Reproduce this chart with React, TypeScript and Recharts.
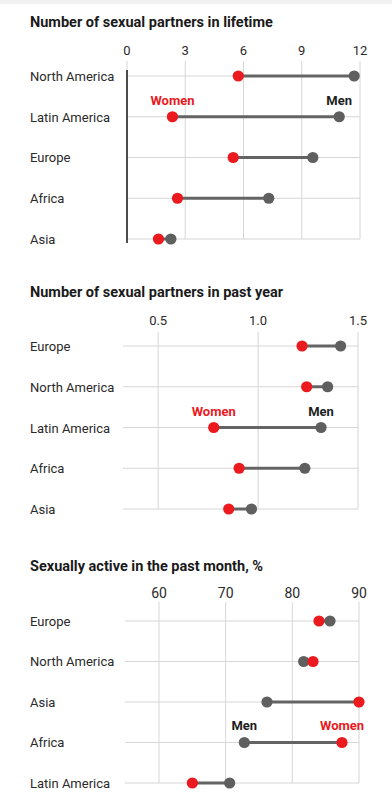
import { ScatterChart, Scatter, XAxis, YAxis, ReferenceLine } from "recharts";

const RED = "#ea1a1f";
const GREY = "#5f5f5f";
const LINK = "#646464";
const GRID = "#d6d6d6";
const INK = "#2a2a2a";
const FONT = "Roboto, 'Liberation Sans', Arial, sans-serif";

// Number of sexual partners in lifetime
const lifetimeRegions = ["North America", "Latin America", "Europe", "Africa", "Asia"];
const lifetimeWomen = [5.73, 2.34, 5.47, 2.6, 1.62];
const lifetimeMen = [11.7, 10.93, 9.57, 7.3, 2.26];
const lifetimeTicks = [0, 3, 6, 9, 12];

// Number of sexual partners in past year
const yearRegions = ["Europe", "North America", "Latin America", "Africa", "Asia"];
const yearWomen = [1.22, 1.243, 0.778, 0.905, 0.853];
const yearMen = [1.413, 1.348, 1.315, 1.234, 0.967];
const yearTicks = [0.5, 1.0, 1.5];

// Sexually active in the past month, %
const monthRegions = ["Europe", "North America", "Asia", "Africa", "Latin America"];
const monthWomen = [84.0, 83.1, 90, 87.45, 65.0];
const monthMen = [85.65, 81.7, 76.2, 72.8, 70.6];
const monthTicks = [60, 70, 80, 90];

const rowTicks = [0, 1, 2, 3, 4];

function dotShape(color: string, label: string, labelRow: number, labelColor: string) {
  return (p: any) => (
    <g>
      <circle cx={p.cx} cy={p.cy} r={5.6} fill={color} />
      {p.payload && p.payload.y === labelRow && (
        <text
          x={p.cx}
          y={p.cy - 12}
          textAnchor="middle"
          fill={labelColor}
          fontSize={13}
          fontWeight={700}
          fontFamily={FONT}
        >
          {label}
        </text>
      )}
    </g>
  );
}

function Panel(props: any) {
  const {
    top, title, titleTop, regions, women, men, ticks, xDomain, yMin,
    plotTop, plotBottom, left, right, tickGap, tickFont, labelRow, zeroLine, fmt,
  } = props;
  const womenPts = regions.map((r: string, i: number) => ({ region: r, x: women[i], y: i }));
  const menPts = regions.map((r: string, i: number) => ({ region: r, x: men[i], y: i }));

  return (
    <div style={{ position: "absolute", left: 0, top, width: 392, height: 260 }}>
      <ScatterChart
        width={392}
        height={260}
        margin={{ top: plotTop - 30, right, bottom: 260 - plotBottom, left: 0 }}
      >
        <XAxis
          type="number"
          dataKey="x"
          orientation="top"
          domain={xDomain}
          ticks={ticks}
          interval={0}
          height={30}
          axisLine={false}
          tickLine={false}
          tickSize={6}
          tickMargin={tickGap}
          tickFormatter={fmt}
          tick={{ fill: INK, fontSize: tickFont, fontFamily: FONT }}
        />
        <YAxis
          type="number"
          dataKey="y"
          domain={[yMin, 4]}
          reversed
          ticks={rowTicks}
          interval={0}
          width={left}
          axisLine={false}
          tickLine={false}
          tick={(t: any) => (
            <text x={30} y={t.y} dy={5} fill={INK} fontSize={13} fontFamily={FONT}>
              {regions[t.payload.value]}
            </text>
          )}
        />
        {/* grid: one line per row and per value tick */}
        {rowTicks.map((t) => (
          <ReferenceLine key={"row" + t} y={t} stroke={GRID} strokeWidth={1} />
        ))}
        {ticks.map((t: number) => (
          <ReferenceLine key={"val" + t} x={t} stroke={GRID} strokeWidth={1} />
        ))}
        {zeroLine && (
          <ReferenceLine
            segment={[{ x: 0, y: -0.15 }, { x: 0, y: 4.1 }]}
            stroke="#222"
            strokeWidth={1.6}
            ifOverflow="visible"
          />
        )}
        {regions.map((r: string, i: number) => (
          <Scatter
            key={r}
            data={[{ x: women[i], y: i }, { x: men[i], y: i }]}
            line={{ stroke: LINK, strokeWidth: 3 }}
            shape={() => <g />}
            isAnimationActive={false}
          />
        ))}
        <Scatter data={menPts} shape={dotShape(GREY, "Men", labelRow, "#1e1e1e")} isAnimationActive={false} />
        <Scatter data={womenPts} shape={dotShape(RED, "Women", labelRow, RED)} isAnimationActive={false} />
      </ScatterChart>
      <div
        style={{
          position: "absolute",
          left: 30,
          top: titleTop,
          fontFamily: FONT,
          fontWeight: 700,
          fontSize: 14.5,
          lineHeight: "17px",
          color: "#1a1a1a",
          whiteSpace: "nowrap",
        }}
      >
        {title}
      </div>
    </div>
  );
}

export default function App() {
  return (
    <div style={{ position: "absolute", left: 0, top: 0, width: 392, height: 800, background: "#fff", overflow: "hidden" }}>
      <div style={{ position: "absolute", left: 0, top: 0, width: 392, height: 4, background: "#f1f1f1" }} />
      <Panel
        top={0}
        title="Number of sexual partners in lifetime"
        titleTop={14}
        regions={lifetimeRegions}
        women={lifetimeWomen}
        men={lifetimeMen}
        ticks={lifetimeTicks}
        xDomain={[0, 12]}
        yMin={-0.368}
        plotTop={61}
        plotBottom={239}
        left={127}
        right={32}
        tickGap={0}
        tickFont={13}
        labelRow={1}
        zeroLine
        fmt={(v: number) => String(v)}
      />
      <Panel
        top={270}
        title="Number of sexual partners in past year"
        titleTop={14}
        regions={yearRegions}
        women={yearWomen}
        men={yearMen}
        ticks={yearTicks}
        xDomain={[0.324, 1.5]}
        yMin={-0.344}
        plotTop={62}
        plotBottom={239}
        left={123}
        right={34}
        tickGap={1}
        tickFont={13}
        labelRow={2}
        zeroLine={false}
        fmt={(v: number) => v.toFixed(1)}
      />
      <Panel
        top={540}
        title="Sexually active in the past month, %"
        titleTop={18}
        regions={monthRegions}
        women={monthWomen}
        men={monthMen}
        ticks={monthTicks}
        xDomain={[54.9, 90]}
        yMin={-0.469}
        plotTop={62}
        plotBottom={243}
        left={125}
        right={33}
        tickGap={-2}
        tickFont={14}
        labelRow={3}
        zeroLine={false}
        fmt={(v: number) => String(v)}
      />
    </div>
  );
}
